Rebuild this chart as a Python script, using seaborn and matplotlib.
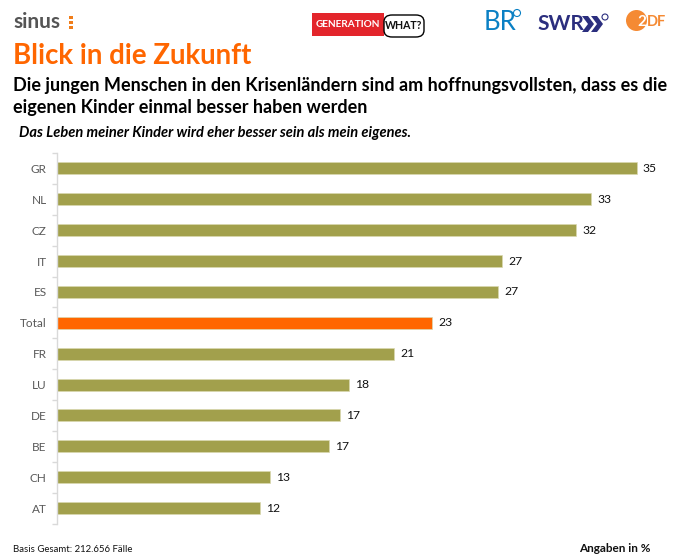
import matplotlib
matplotlib.use("Agg")
import matplotlib.pyplot as plt
from matplotlib.patches import Rectangle, Circle, FancyBboxPatch, Polygon
import seaborn as sns
import pandas as pd

countries = ["GR", "NL", "CZ", "IT", "ES", "Total", "FR", "LU", "DE", "BE", "CH", "AT"]
values = [35.35, 32.56, 31.65, 27.13, 26.89, 22.87, 20.55, 17.79, 17.27, 16.59, 12.99, 12.4]
OLIVE = "#A2A04C"
ORANGE = "#FF6600"
colors = [ORANGE if c == "Total" else OLIVE for c in countries]

sns.set_theme(style="white")
plt.rcParams["font.family"] = ["Lato", "DejaVu Sans"]

W, H = 678, 560
fig = plt.figure(figsize=(W / 100, H / 100), dpi=100, facecolor="white")
ax = fig.add_axes([57 / W, 1 - 523.5 / H, (668 - 57) / W, (523.5 - 153) / H])

df = pd.DataFrame({"land": countries, "wert": values})
sns.barplot(data=df, y="land", x="wert", hue="land", palette=colors, legend=False,
            width=0.39, ax=ax, saturation=1, edgecolor="#D9D8B0", linewidth=0.5)
ax.set_xlim(0, 611 / 16.4)
ax.set_ylim(len(countries) - 0.5, -0.5)
ax.set_xlabel("")
ax.set_ylabel("")
ax.xaxis.set_visible(False)
for s in ["top", "right", "bottom"]:
    ax.spines[s].set_visible(False)
ax.spines["left"].set_color("#D9D9D9")
ax.spines["left"].set_linewidth(1.0)
ax.set_yticks([i - 0.5 for i in range(len(countries) + 1)], minor=True)
ax.set_yticks(range(len(countries)))
ax.set_yticklabels(countries, fontsize=8.5, color="#595959")
ax.tick_params(axis="y", which="major", length=0, pad=7.5)
ax.tick_params(axis="y", which="minor", length=3.5, width=1, color="#D9D9D9", left=True)
for container in ax.containers:
    ax.bar_label(container, fmt="%.0f", padding=4.3, fontsize=8.7, color="#111111")


def T(x, y, s, **kw):
    fig.text(x / W, 1 - y / H, s, va="center", ha=kw.pop("ha", "left"), **kw)


def box(x0, y0, x1, y1, c):
    fig.add_artist(Rectangle((x0 / W, 1 - y1 / H), (x1 - x0) / W, (y1 - y0) / H,
                             transform=fig.transFigure, fc=c, ec="none"))


def chevron(x, y, c):
    pts = [(x, y - 8), (x + 6, y - 8), (x + 12, y), (x + 6, y + 8), (x, y + 8), (x + 6, y)]
    fig.add_artist(Polygon([(a / W, 1 - b / H) for a, b in pts], transform=fig.transFigure,
                           fc=c, ec="none"))


def ring(x, y, r, c):
    fig.add_artist(Circle((x, H - y), r, transform=None, fc="white", ec=c, lw=0.8))


# Headings
T(13, 55.5, "Blick in die Zukunft", fontsize=19.9, color=ORANGE, fontweight="bold")
T(13, 85, "Die jungen Menschen in den Krisenländern sind am hoffnungsvollsten, dass es die",
  fontsize=13.0, color="black", fontweight="bold")
T(13, 107.5, "eigenen Kinder einmal besser haben werden",
  fontsize=13.0, color="black", fontweight="bold")
T(19, 133.5, "Das Leben meiner Kinder wird eher besser sein als mein eigenes.",
  fontsize=10.5, color="black", fontweight="bold", style="italic")

# Footer
T(13, 549, "Basis Gesamt: 212.656 Fälle", fontsize=6.95, color="#111111")
T(651, 548.5, "Angaben in %", fontsize=8.5, color="#111111", fontweight="bold", ha="right")

# Logos as text and simple shapes
T(13, 21.5, "sinus", fontsize=15, color="#555555", fontweight="bold")
for yy in (17, 22, 27):
    box(68.5, yy - 1.5, 72.5, yy + 1.5, "#F07D1A")

box(312, 13, 384, 36, "#E3252B")
fig.add_artist(FancyBboxPatch((384 / W, 1 - 37 / H), 40 / W, 22 / H, transform=fig.transFigure,
                              boxstyle="round,pad=0,rounding_size=0.012", fc="white", ec="black", lw=1))
T(348, 24.5, "GENERATION", fontsize=7.2, color="white", fontweight="bold", ha="center")
T(404, 25.5, "WHAT?", fontsize=7.6, color="#111111", fontweight="bold", ha="center")

T(484, 22, "BR", fontsize=18.5, color="#0A80C4")
ring(517, 13, 3.5, "#0A80C4")
T(537, 24, "SWR", fontsize=15, color="#2B2E7E", fontweight="bold")
chevron(582, 24, "#2B2E7E")
chevron(591, 24, "#2B2E7E")
ring(605, 17, 3, "#2B2E7E")
fig.add_artist(Circle((636.5, H - 20.5), 10.5, transform=None, fc="#F58A33", ec="none"))
T(637, 21.5, "2", fontsize=11, color="white", fontweight="bold")
T(647, 21.5, "DF", fontsize=10.5, color="#F58A33", fontweight="bold")

fig.savefig("out.png", dpi=100, facecolor="white")
